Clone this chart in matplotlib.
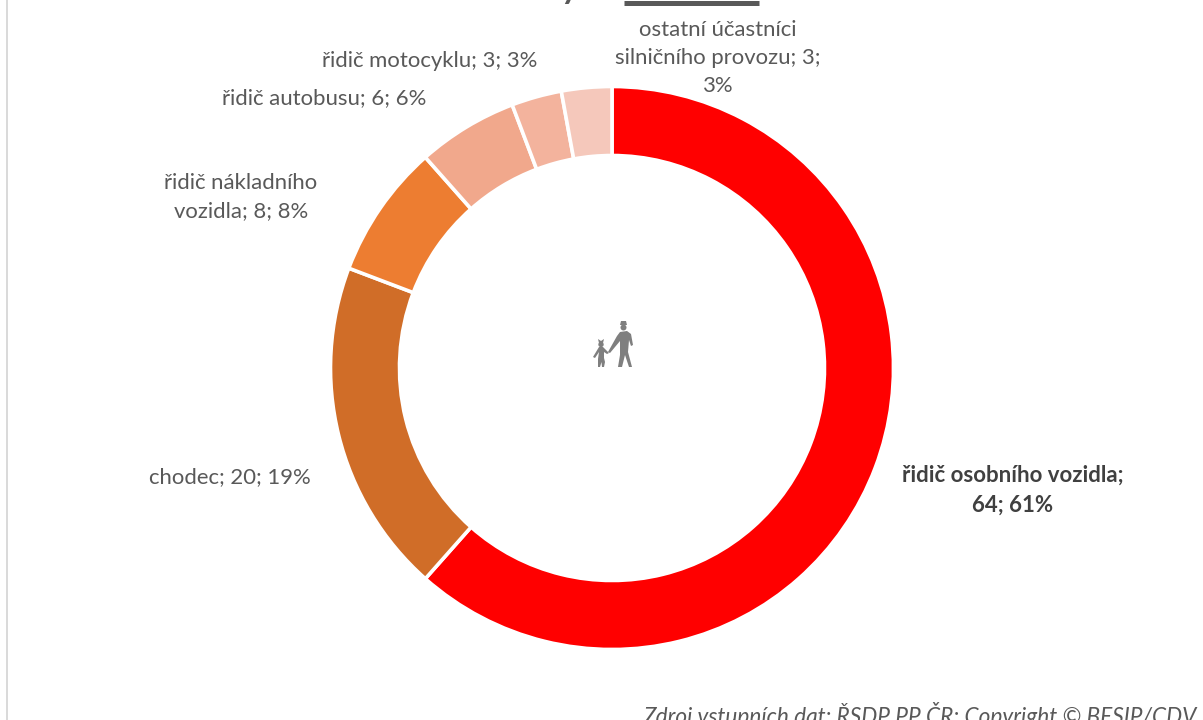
import matplotlib

matplotlib.use("Agg")
import matplotlib.pyplot as plt
from matplotlib.patches import Circle, Polygon

# data
categories = [
    "řidič osobního vozidla;\n64; 61%",
    "chodec; 20; 19%",
    "řidič nákladního\nvozidla; 8; 8%",
    "řidič autobusu; 6; 6%",
    "řidič motocyklu; 3; 3%",
    "ostatní účastníci\nsilničního provozu; 3;\n3%",
]
values = [64, 20, 8, 6, 3, 3]
colors = ["#ff0000", "#d06d28", "#ed7d31", "#f1a88c", "#f3b39d", "#f5c8bb"]
label_x = [1013, 230, 241, 324, 430, 718]
label_y = [490, 477, 197, 98, 61, 58]
footer = "Zdroj vstupních dat: ŘSDP PP ČR; Copyright © BESIP/CDV"

plt.rcParams["font.family"] = ["Lato", "DejaVu Sans"]
text_color = "#595959"
H = 720

fig = plt.figure(figsize=(12.03, 7.2), dpi=100)
ax = fig.add_axes([0, 0, 1, 1])

# prstenec, po směru hodin od 12
ax.pie(
    values,
    colors=colors,
    startangle=90,
    counterclock=False,
    center=(612, H - 368),
    radius=281.5,
    wedgeprops={"width": 69, "edgecolor": "white", "linewidth": 2.6},
)
ax.set_xlim(0, 1203)
ax.set_ylim(0, H)
ax.set_aspect("equal")
ax.axis("off")

# popisky
for i, (text, x, y) in enumerate(zip(categories, label_x, label_y)):
    ax.text(
        x, H - y, text, ha="center", va="center", fontsize=16.0 if i == 0 else 15.9,
        color="#404040" if i == 0 else text_color,
        fontweight="bold" if i == 0 else "normal", linespacing=1.52,
    )

# zbytek oříznutého nadpisu
ax.text(570, H + 10, "y", ha="center", va="center", fontsize=24, color=text_color, fontweight="bold")
ax.plot([624, 759], [H - 2.5, H - 2.5], color=text_color, linewidth=3.6, solid_capstyle="butt")

# levý okraj rámečku
ax.plot([7, 7], [H, 0], color="#d9d9d9", linewidth=1.4)

# zdroj
ax.text(1197, H - 714.5, footer, ha="right", va="center", fontsize=16.3, color=text_color, style="italic", clip_on=False)

# ikonka muže s dítětem
icon = "#7f7f7f"
man = [(620, 332), (627, 331), (631, 334), (633, 345), (631, 346), (629, 340), (628, 352), (632, 367), (629, 367),
       (625, 355), (622, 367), (618, 367), (620, 355), (620, 341), (610, 353), (608, 352), (617, 336)]
hat = [(620, 325), (621, 321), (626, 321), (627, 325)]
child = [(599, 347), (603, 347), (608, 352), (609, 353), (607, 354), (604, 352), (604, 358), (605, 362), (604, 367),
         (602, 367), (601.5, 362), (600, 367), (598, 367), (598, 359), (599, 352), (595, 358), (593, 357)]
bow = [(598, 339), (601, 341), (604, 339), (603, 343), (599, 343)]
for shape in (man, hat, child, bow):
    ax.add_patch(Polygon([(x, H - y) for x, y in shape], closed=True, color=icon, lw=0))
ax.add_patch(Circle((623.5, H - 327.5), 3, color=icon, lw=0))
ax.add_patch(Circle((601, H - 344.5), 2.7, color=icon, lw=0))

fig.savefig("out.png", dpi=100)
plt.close(fig)
